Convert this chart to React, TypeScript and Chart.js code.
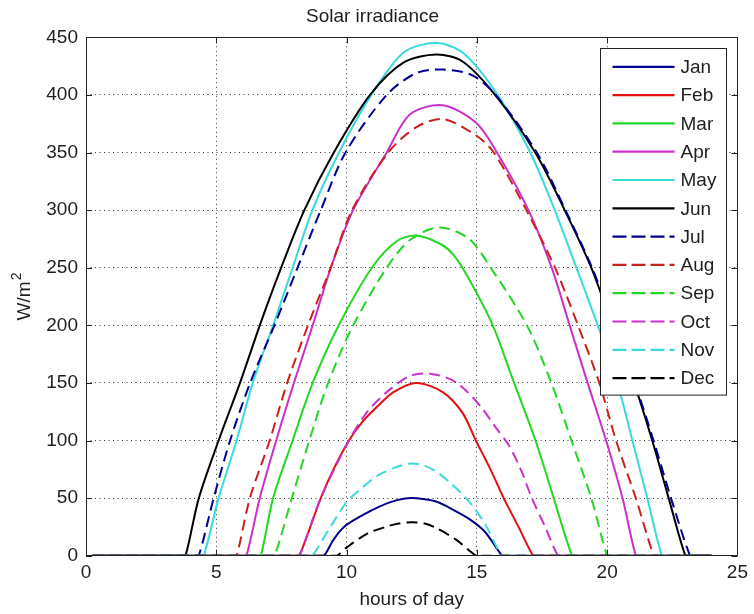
import React, { useEffect, useRef } from 'react';
import { Chart, registerables } from 'chart.js';

Chart.register(...registerables);

// ---- data (hours of day, W/m^2) ----
const MONTHS = ['Jan', 'Feb', 'Mar', 'Apr', 'May', 'Jun', 'Jul', 'Aug', 'Sep', 'Oct', 'Nov', 'Dec'];

const janHours = [0.25, 9.0, 9.14, 9.5, 9.9, 10.6, 11.3, 11.9, 12.45, 13.0, 13.44, 14.0, 14.7, 15.3, 15.97, 16.1, 24];
const janValues = [0, 0, 0, 14, 25, 35, 43, 48, 50, 49, 47, 41, 32, 21, 0, 0, 0];

const febHours = [0.25, 8.05, 8.19, 9.01, 9.5, 10.09, 10.6, 11.16, 11.8, 12.68, 13.69, 14.45, 14.96, 15.5, 16.03, 16.6, 17.16, 17.3, 24];
const febValues = [0, 0, 0, 50, 75, 100, 116, 129, 142, 150, 142, 124, 100, 76, 50, 25, 0, 0, 0];

const marHours = [0.25, 6.57, 6.71, 7.18, 7.93, 8.7, 9.7, 10.97, 11.92, 12.68, 13.57, 14.07, 14.6, 15.59, 16.38, 17.25, 17.95, 18.65, 18.8, 24];
const marValues = [0, 0, 0, 50, 100, 150, 200, 250, 273, 278, 271, 262, 244, 201, 153, 100, 50, 0, 0, 0];

const aprHours = [0.25, 6.02, 6.16, 6.67, 7.3, 7.98, 8.7, 9.4, 10.25, 11.54, 12.43, 13.69, 14.96, 15.72, 16.98, 17.87, 18.56, 19.25, 19.96, 20.59, 21.1, 21.25, 24];
const aprValues = [0, 0, 0, 50, 100, 150, 200, 250, 300, 350, 383, 391, 376, 352, 300, 250, 200, 150, 100, 50, 0, 0, 0];

const mayHours = [0.25, 4.38, 4.52, 5.09, 5.78, 6.4, 7.18, 7.93, 8.69, 9.71, 10.95, 12.2, 13.44, 14.5, 15.8, 17.05, 17.99, 18.82, 19.64, 20.39, 20.97, 21.54, 22.1, 22.25, 24];
const mayValues = [0, 0, 0, 50, 100, 150, 200, 250, 300, 350, 400, 437, 445, 436, 400, 350, 300, 250, 200, 150, 100, 50, 0, 0, 0];

const junHours = [0.25, 3.68, 3.82, 4.33, 5.09, 5.91, 6.67, 7.49, 8.38, 9.51, 10.9, 12.18, 13.44, 14.45, 15.7, 17.24, 18.37, 19.39, 20.2, 21.03, 21.73, 22.36, 23.0, 23.15, 24];
const junValues = [0, 0, 0, 50, 100, 150, 200, 250, 300, 350, 400, 428, 435, 429, 400, 350, 300, 250, 200, 150, 100, 50, 0, 0, 0];

const julHours = [0.25, 4.19, 4.33, 4.9, 5.53, 6.3, 7.23, 8.12, 9.01, 9.96, 11.54, 12.68, 13.7, 14.83, 15.72, 17.3, 18.4, 19.42, 20.25, 21.06, 21.78, 22.45, 23.18, 23.32, 24];
const julValues = [0, 0, 0, 50, 100, 150, 200, 250, 300, 350, 400, 419, 422, 417, 400, 350, 300, 250, 200, 150, 100, 50, 0, 0, 0];

const augHours = [0.25, 5.64, 5.78, 6.29, 7.05, 7.72, 8.52, 9.39, 10.21, 11.6, 12.68, 13.7, 14.96, 15.65, 16.9, 18.0, 18.88, 19.7, 20.34, 21.1, 21.79, 21.93, 24];
const augValues = [0, 0, 0, 50, 100, 150, 200, 250, 300, 350, 372, 379, 365, 350, 300, 250, 200, 150, 100, 50, 0, 0, 0];

const sepHours = [0.25, 7.1, 7.24, 7.9, 8.57, 9.26, 10.21, 11.54, 12.43, 13.57, 14.7, 15.53, 16.92, 17.86, 18.63, 19.39, 20.0, 20.14, 24];
const sepValues = [0, 0, 0, 50, 100, 148, 198, 250, 274, 285, 275, 250, 200, 150, 100, 50, 0, 0, 0];

const octHours = [0.25, 8.05, 8.19, 9.01, 10.09, 10.8, 11.54, 12.43, 13.2, 14.0, 14.6, 15.2, 15.7, 16.25, 16.7, 17.11, 17.6, 18.11, 18.25, 24];
const octValues = [0, 0, 0, 50, 100, 125, 142, 156, 158, 153, 143, 128, 112, 95, 74, 50, 26, 0, 0, 0];

const novHours = [0.25, 8.55, 8.69, 9.3, 10.02, 10.6, 11.16, 11.8, 12.45, 13.0, 13.44, 14.0, 14.7, 15.3, 15.95, 16.1, 24];
const novValues = [0, 0, 0, 22, 47, 59, 69, 76, 80, 78, 73, 63, 47, 28, 0, 0, 0];

const decHours = [0.25, 9.5, 9.64, 10.0, 10.78, 11.5, 12.0, 12.5, 13.0, 13.44, 14.2, 14.96, 15.1, 24];
const decValues = [0, 0, 0, 7, 19, 25, 28, 29, 28, 24, 14, 0, 0, 0];

const X_MIN = 0;
const X_MAX = 25;
const X_STEP = 5;
const Y_MIN = 0;
const Y_MAX = 450;
const Y_STEP = 50;

const TITLE = 'Solar irradiance';
const X_TITLE = 'hours of day';
const Y_TITLE_MAIN = 'W/m';
const Y_TITLE_SUP = '2';

// ---- styles ----
const FONT = "'Liberation Sans', Arial, Helvetica, sans-serif";
const TEXT_COLOR = '#1e1e1e';
const COLORS = ['#00008c', '#e01010', '#22d822', '#cc30cc', '#38dada', '#000000',
  '#000090', '#cc2020', '#22d822', '#cc30cc', '#38dada', '#000000'];
const DASH = [11, 6];

const SERIES_HOURS = [janHours, febHours, marHours, aprHours, mayHours, junHours,
  julHours, augHours, sepHours, octHours, novHours, decHours];
const SERIES_VALUES = [janValues, febValues, marValues, aprValues, mayValues, junValues,
  julValues, augValues, sepValues, octValues, novValues, decValues];

const framePlugin = {
  id: 'matlabFrame',
  afterDatasetsDraw(chart: any) {
    const { ctx, chartArea } = chart;
    const { left, right, top, bottom } = chartArea;
    ctx.save();
    ctx.strokeStyle = '#222';
    ctx.lineWidth = 1;
    ctx.setLineDash([]);
    ctx.strokeRect(Math.round(left) + 0.5, Math.round(top) + 0.5, Math.round(right - left), Math.round(bottom - top));
    const tl = 6;
    ctx.beginPath();
    chart.scales.x.ticks.forEach((t: any) => {
      const px = Math.round(chart.scales.x.getPixelForValue(t.value)) + 0.5;
      ctx.moveTo(px, bottom); ctx.lineTo(px, bottom - tl);
      ctx.moveTo(px, top); ctx.lineTo(px, top + tl);
    });
    chart.scales.y.ticks.forEach((t: any) => {
      const py = Math.round(chart.scales.y.getPixelForValue(t.value)) + 0.5;
      ctx.moveTo(left, py); ctx.lineTo(left + tl, py);
      ctx.moveTo(right, py); ctx.lineTo(right - tl, py);
    });
    ctx.stroke();
    ctx.restore();
  },
};

const yTitlePlugin = {
  id: 'yTitleSup',
  afterDraw(chart: any) {
    const { ctx, chartArea } = chart;
    const cy = (chartArea.top + chartArea.bottom) / 2;
    ctx.save();
    ctx.translate(30, cy);
    ctx.rotate(-Math.PI / 2);
    ctx.fillStyle = TEXT_COLOR;
    ctx.textBaseline = 'alphabetic';
    ctx.textAlign = 'left';
    ctx.font = `19px ${FONT}`;
    const w1 = ctx.measureText(Y_TITLE_MAIN).width;
    ctx.font = `14px ${FONT}`;
    const w2 = ctx.measureText(Y_TITLE_SUP).width;
    const start = -(w1 + w2 + 1) / 2;
    ctx.font = `19px ${FONT}`;
    ctx.fillText(Y_TITLE_MAIN, start, 0);
    ctx.font = `14px ${FONT}`;
    ctx.fillText(Y_TITLE_SUP, start + w1 + 1, -9);
    ctx.restore();
  },
};

const legendPlugin = {
  id: 'boxLegend',
  afterDraw(chart: any) {
    const { ctx, chartArea } = chart;
    const boxW = 126;
    const rowH = 28.3;
    const n = chart.data.datasets.length;
    const boxH = rowH * n + 7;
    const x0 = Math.round(chartArea.right - 11 - boxW) + 0.5;
    const y0 = Math.round(chartArea.top + 10.7) + 0.5;
    ctx.save();
    ctx.fillStyle = '#ffffff';
    ctx.fillRect(x0, y0, boxW, boxH);
    ctx.strokeStyle = '#222';
    ctx.lineWidth = 1;
    ctx.setLineDash([]);
    ctx.strokeRect(x0, y0, boxW, boxH);
    ctx.font = `19px ${FONT}`;
    ctx.textBaseline = 'middle';
    ctx.textAlign = 'left';
    chart.data.datasets.forEach((ds: any, i: number) => {
      const cy = y0 + 18.3 + i * rowH;
      ctx.beginPath();
      ctx.strokeStyle = ds.borderColor;
      ctx.lineWidth = 2.2;
      ctx.setLineDash(ds.borderDash && ds.borderDash.length ? [14, 5] : []);
      ctx.moveTo(x0 + 12, cy);
      ctx.lineTo(x0 + 74, cy);
      ctx.stroke();
      ctx.setLineDash([]);
      ctx.fillStyle = TEXT_COLOR;
      ctx.fillText(ds.label, x0 + 80, cy + 1);
    });
    ctx.restore();
  },
};

export default function App() {
  const canvasRef = useRef<HTMLCanvasElement | null>(null);

  useEffect(() => {
    const canvas = canvasRef.current;
    if (!canvas) return;
    const datasets = MONTHS.map((m, i) => ({
      label: m,
      data: SERIES_HOURS[i].map((h, k) => ({ x: h, y: SERIES_VALUES[i][k] })),
      borderColor: COLORS[i],
      backgroundColor: COLORS[i],
      borderWidth: 2,
      borderDash: i >= 6 ? DASH : [],
      pointRadius: 0,
      fill: false,
      tension: 0.3,
      order: 12 - i,
    }));

    const chart = new Chart(canvas, {
      type: 'line',
      data: { datasets },
      options: {
        responsive: false,
        animation: false,
        devicePixelRatio: 1,
        layout: { padding: { top: 0, right: 9, left: 0, bottom: 0 } },
        plugins: {
          legend: { display: false },
          tooltip: { enabled: false },
          title: {
            display: true,
            text: TITLE,
            color: TEXT_COLOR,
            font: { family: FONT, size: 19, weight: 'normal' },
            padding: { top: 5, bottom: 9.5 },
          },
        },
        scales: {
          x: {
            type: 'linear',
            min: X_MIN,
            max: X_MAX,
            ticks: {
              stepSize: X_STEP,
              color: TEXT_COLOR,
              font: { family: FONT, size: 19 },
              padding: 6,
              maxRotation: 0,
            },
            grid: { color: '#333', lineWidth: 1, drawTicks: false },
            border: { display: false, dash: [1, 3.5] },
            title: {
              display: true,
              text: X_TITLE,
              color: TEXT_COLOR,
              font: { family: FONT, size: 19 },
              padding: { top: 0, bottom: 3 },
            },
            afterFit(scale: any) { scale.height = 58.3; },
          },
          y: {
            type: 'linear',
            min: Y_MIN,
            max: Y_MAX,
            ticks: {
              stepSize: Y_STEP,
              color: TEXT_COLOR,
              font: { family: FONT, size: 19 },
              padding: 8,
            },
            grid: { color: '#333', lineWidth: 1, drawTicks: false },
            border: { display: false, dash: [1, 3.5] },
            title: { display: false },
            afterFit(scale: any) { scale.width = 86; },
          },
        },
      },
      plugins: [framePlugin, yTitlePlugin, legendPlugin],
    });
    return () => chart.destroy();
  }, []);

  return (
    <div style={{ position: 'fixed', left: 0, top: 0, width: 754, height: 614, background: '#fff' }}>
      <canvas ref={canvasRef} width={754} height={614} style={{ display: 'block' }} />
    </div>
  );
}
